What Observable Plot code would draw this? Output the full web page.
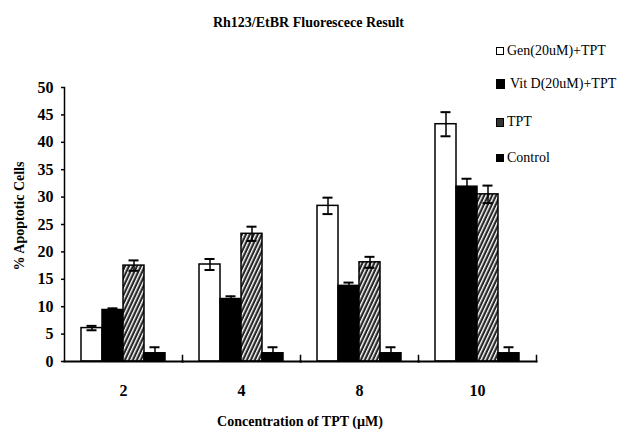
<!DOCTYPE html>
<html>
<head>
<meta charset="utf-8">
<script src="https://cdn.jsdelivr.net/npm/d3@7"></script>
<script src="https://cdn.jsdelivr.net/npm/@observablehq/plot@0.6"></script>
<style>
  body { margin: 0; background: white; }
  #wrap { position: relative; width: 617px; height: 430px; font-family: "Liberation Serif", "Times New Roman", serif; color: black; }
  .abs { position: absolute; white-space: nowrap; }
  .title { left: 0; width: 617px; top: 15px; line-height: 16px; text-align: center; font-weight: bold; font-size: 14px; }
  .xlabel { left: 0; width: 600px; top: 414px; line-height: 16px; text-align: center; font-weight: bold; font-size: 14px; }
  .ylabel { left: 20px; top: 216px; transform: translate(-50%, -50%) rotate(-90deg); font-weight: bold; font-size: 14px; line-height: 16px; }
  .leg { left: 496px; font-size: 14px; line-height: 16px; display: flex; align-items: center; }
  .sw { display: inline-block; box-sizing: border-box; margin-right: 3px; }
</style>
</head>
<body>
<div id="wrap"></div>
<script>
// ---- data ----
const concentrations = ["2", "4", "8", "10"];
const seriesNames = ["Gen(20uM)+TPT", "Vit D(20uM)+TPT", "TPT", "Control"];
const genValues = [6.1, 17.7, 28.4, 43.3];
const genErrors = [0.4, 1.0, 1.5, 2.2];
const vitDValues = [9.4, 11.4, 13.8, 31.9];
const vitDErrors = [0.3, 0.5, 0.6, 1.45];
const tptValues = [17.5, 23.3, 18.1, 30.5];
const tptErrors = [0.95, 1.3, 1.0, 1.6];
const controlValues = [1.5, 1.5, 1.5, 1.5];
const controlErrors = [1.1, 1.1, 1.1, 1.1];
const yTicks = [0, 5, 10, 15, 20, 25, 30, 35, 40, 45, 50];
const titleText = "Rh123/EtBR Fluorescece Result";
const xLabelText = "Concentration of TPT (µM)";
const yLabelText = "% Apoptotic Cells";

const valueSets = [genValues, vitDValues, tptValues, controlValues];
const errorSets = [genErrors, vitDErrors, tptErrors, controlErrors];
const rows = [];
concentrations.forEach((c, i) => {
  seriesNames.forEach((s, j) => {
    rows.push({conc: c, series: s, value: valueSets[j][i], err: errorSets[j][i]});
  });
});

const svg = Plot.plot({
  width: 617,
  height: 430,
  marginLeft: 64,
  marginRight: 81,
  marginTop: 87,
  marginBottom: 69,
  style: {fontFamily: '"Liberation Serif", "Times New Roman", serif', fontSize: "16px", fontWeight: "bold", background: "white", color: "black"},
  fx: {domain: concentrations, padding: 0, label: null},
  x: {domain: seriesNames, paddingInner: 0, paddingOuter: 0.723, axis: null},
  y: {domain: [0, 50], axis: null},
  color: {domain: seriesNames, range: ["white", "black", "url(#hatch)", "black"]},
  marks: [
    Plot.barY(rows, {fx: "conc", x: "series", y: "value", fill: "series", stroke: "black", strokeWidth: 1.5}),
    Plot.ruleX(rows, {fx: "conc", x: "series", y1: d => d.value - d.err, y2: d => d.value + d.err, stroke: "black", strokeWidth: 1.5}),
    Plot.tickY(rows, {fx: "conc", x: "series", y: d => d.value + d.err, insetLeft: 5.5, insetRight: 5.5, stroke: "black", strokeWidth: 2}),
    Plot.tickY(rows, {fx: "conc", x: "series", y: d => d.value - d.err, insetLeft: 5.5, insetRight: 5.5, stroke: "black", strokeWidth: 2}),
    Plot.frame({anchor: "bottom", stroke: "black", strokeWidth: 2}),
    Plot.frame({anchor: "right", insetTop: 268, stroke: "black", strokeWidth: 1.5}),
    Plot.frame({anchor: "left", facetAnchor: "left", stroke: "black", strokeWidth: 1.5}),
    Plot.axisY({ticks: yTicks, tickSize: 3, tickPadding: 8, label: null, strokeWidth: 1.5}),
    Plot.axisFx({anchor: "bottom", tickSize: 0, tickPadding: 23, label: null})
  ]
});

const defs = d3.select(svg).insert("defs", ":first-child");
const pat = defs.append("pattern")
  .attr("id", "hatch")
  .attr("patternUnits", "userSpaceOnUse")
  .attr("width", 3.6)
  .attr("height", 10)
  .attr("patternTransform", "rotate(25)");
pat.append("rect").attr("width", 3.6).attr("height", 10).attr("fill", "#262626");
pat.append("rect").attr("x", 0).attr("width", 1.4).attr("height", 10).attr("fill", "white");

const wrap = document.getElementById("wrap");
wrap.appendChild(svg);
svg.style.position = "absolute";
svg.style.left = "0px";
svg.style.top = "0px";

function addDiv(cls, text, top) {
  const d = document.createElement("div");
  d.className = "abs " + cls;
  d.textContent = text;
  if (top !== undefined) d.style.top = top + "px";
  wrap.appendChild(d);
  return d;
}
addDiv("title", titleText);
addDiv("xlabel", xLabelText);
addDiv("ylabel", yLabelText);

const legendCenters = [51, 84, 122, 158];
const swatches = [
  {w: 8, h: 8, bg: "white", border: "1.5px solid black", gap: 3},
  {w: 9, h: 10, bg: "black", border: "none", gap: 5},
  {w: 8, h: 9, bg: "#333", border: "1px solid black", gap: 3},
  {w: 8, h: 8, bg: "black", border: "none", gap: 3}
];
seriesNames.forEach((name, i) => {
  const item = document.createElement("div");
  item.className = "abs leg";
  item.style.top = (legendCenters[i] - 8) + "px";
  const sw = document.createElement("span");
  sw.className = "sw";
  sw.style.width = swatches[i].w + "px";
  sw.style.height = swatches[i].h + "px";
  sw.style.background = swatches[i].bg;
  sw.style.border = swatches[i].border;
  sw.style.marginRight = swatches[i].gap + "px";
  const t = document.createElement("span");
  t.textContent = name;
  item.appendChild(sw);
  item.appendChild(t);
  wrap.appendChild(item);
});
</script>
</body>
</html>
